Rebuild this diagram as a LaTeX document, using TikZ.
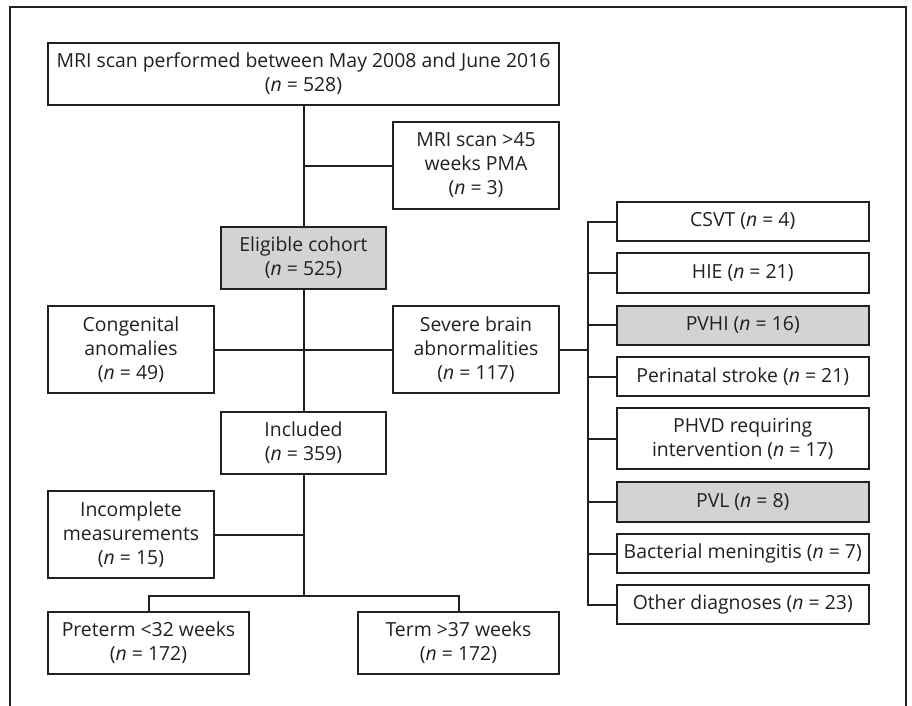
\documentclass[tikz,border=0pt]{standalone}
\usepackage{fontspec}
\setmainfont{Open Sans}
\usetikzlibrary{calc}

\definecolor{ink}{HTML}{231F20}
\definecolor{shade}{HTML}{D1D3D4}

\tikzset{
  fbox/.style={draw=ink, line width=2pt, align=center, inner sep=0pt,
    text=ink, font=\fontsize{19.4}{24}\selectfont},
  grey/.style={fill=shade},
  link/.style={draw=ink, line width=2pt},
}

\begin{document}
\begin{tikzpicture}[x=1pt,y=-1pt]
\useasboundingbox (0,0) rectangle (912,706);
\draw[ink, line width=1.3pt] (10,706) -- (10,7) -- (906,7) -- (906,706);

% main column
\node[fbox, minimum width=511, minimum height=62] (scan) at (303.5,74)
  {MRI scan performed between May 2008 and June 2016\\(\textit{n} = 528)};
\node[fbox, minimum width=166, minimum height=87] (late) at (476,165.5)
  {MRI scan >45\\weeks PMA\\(\textit{n} = 3)};
\node[fbox, grey, minimum width=165, minimum height=62] (cohort) at (303.5,258)
  {Eligible cohort\\(\textit{n} = 525)};
\node[fbox, minimum width=166, minimum height=87] (cong) at (131,349.5)
  {Congenital\\anomalies\\(\textit{n} = 49)};
\node[fbox, minimum width=166, minimum height=87] (sev) at (476,349.5)
  {Severe brain\\abnormalities\\(\textit{n} = 117)};
\node[fbox, minimum width=165, minimum height=62] (incl) at (303.5,443)
  {Included\\(\textit{n} = 359)};
\node[fbox, minimum width=166, minimum height=87] (incomp) at (131,534.5)
  {Incomplete\\measurements\\(\textit{n} = 15)};
\node[fbox, minimum width=201, minimum height=62] (pre) at (148.5,643)
  {Preterm <32 weeks\\(\textit{n} = 172)};
\node[fbox, minimum width=201, minimum height=62] (term) at (458.5,643)
  {Term >37 weeks\\(\textit{n} = 172)};

% diagnoses
\node[fbox, minimum width=252.5, minimum height=39] (csvt) at (742.75,221.5)
  {CSVT (\textit{n} = 4)};
\node[fbox, minimum width=252.5, minimum height=40] (hie) at (742.75,273)
  {HIE (\textit{n} = 21)};
\node[fbox, grey, minimum width=252.5, minimum height=39] (pvhi) at (742.75,325)
  {PVHI (\textit{n} = 16)};
\node[fbox, minimum width=252.5, minimum height=39] (stroke) at (742.75,376.5)
  {Perinatal stroke (\textit{n} = 21)};
\node[fbox, minimum width=252.5, minimum height=61] (phvd) at (742.75,438.5)
  {PHVD requiring\\intervention (\textit{n} = 17)};
\node[fbox, grey, minimum width=252.5, minimum height=40] (pvl) at (742.75,502)
  {PVL (\textit{n} = 8)};
\node[fbox, minimum width=252.5, minimum height=39] (mening) at (742.75,553.5)
  {Bacterial meningitis (\textit{n} = 7)};
\node[fbox, minimum width=252.5, minimum height=39] (other) at (742.75,604.5)
  {Other diagnoses (\textit{n} = 23)};

\coordinate (fork) at (303.5,596);
\coordinate (rail) at (588,350);

% connectors
\draw[link] (scan.south) -- (cohort.north);
\draw[link] (late.west) -- (late.west -| scan.south);
\draw[link] (cohort.south) -- (incl.north);
\draw[link] (cong.east) -- (sev.west);
\draw[link] (incl.south) -- (fork);
\draw[link] (incomp.east) -- (incomp.east -| fork);
\draw[link] (pre.north) -- (pre.north |- fork) -- (term.north |- fork) -- (term.north);
\draw[link] (sev.east) -- (sev.east -| rail);
\draw[link] (csvt.west) -- (csvt.west -| rail) -- (other.west -| rail) -- (other.west);
\foreach \n in {hie,pvhi,stroke,phvd,pvl,mening} {
  \draw[link] (\n.west) -- (\n.west -| rail);
}
\end{tikzpicture}
\end{document}
